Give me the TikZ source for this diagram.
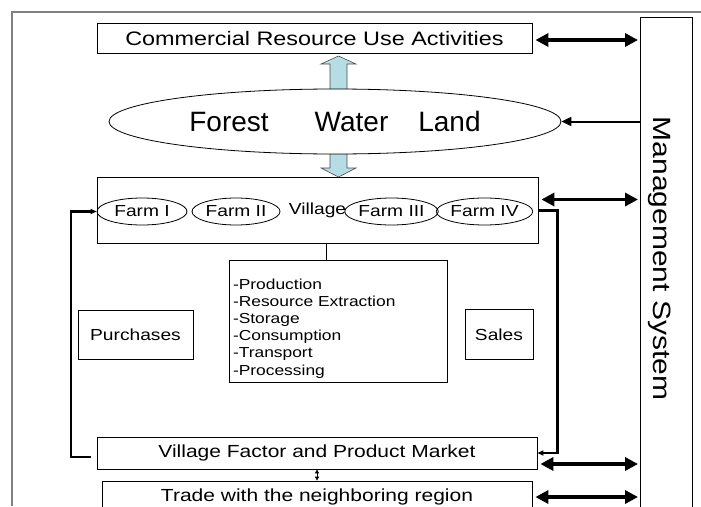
\documentclass[tikz,border=0pt]{standalone}
\usepackage{fontspec}
\setmainfont{Liberation Sans}[FakeStretch=1.2]
\newfontfamily\resfont{Liberation Sans}
\usetikzlibrary{shapes.geometric,arrows.meta,calc}
\definecolor{paleblue}{RGB}{183,221,228}
\tikzset{
	box/.style={draw, rectangle, inner sep=0pt},
	farm/.style={draw, ellipse, inner sep=0pt, minimum height=27, font=\fontsize{16}{18}\selectfont},
	both/.style={{Triangle[length=13pt,width=13pt]}-{Triangle[length=13pt,width=13pt]}, line width=3.5pt},
	loopline/.style={-{Triangle[length=6pt,width=5pt]}, line width=2.2pt, line join=miter},
}
\begin{document}
\begin{tikzpicture}[x=1pt, y=-1pt, line width=0.8pt, >=Triangle]
	\useasboundingbox (0,0) rectangle (701,506);
	\clip (0,0) rectangle (701,506);
	\draw[gray, line width=1.2pt] (12,506) -- (12,12) -- (701,12);
	\foreach \a/\b/\c in {89/64/56,154/168/177}{
		\fill[paleblue] (330,\a) -- (330,\b) -- (321,\b) -- (338.5,\c) -- (356,\b) -- (347,\b) -- (347,\a) -- cycle;
		\draw[black!70, line width=0.6pt] (330,\a) -- (330,\b) -- (321,\b) -- (338.5,\c) -- (356,\b) -- (347,\b) -- (347,\a);
	}
	\node[box, minimum width=435, minimum height=30, font=\fontsize{19.5}{22}\selectfont] (com) at (314.5,38.5) {Commercial Resource Use Activities};
	\node[draw, ellipse, inner sep=0pt, minimum width=452, minimum height=65, font=\resfont\fontsize{28}{32}\selectfont] (res) at (335,121.5) {Forest\hspace{46pt}Water\hspace{30pt}Land};
	\node[box, minimum width=441, minimum height=66, font=\fontsize{16}{18}\selectfont] (vil) at (317.5,210.5) {Village};
	\node[farm, minimum width=90] (f1) at (142,211.5) {Farm I};
	\node[farm, minimum width=88] (f2) at (236,211.5) {Farm II};
	\node[farm, minimum width=83] (f3) at (391.5,211.5) {Farm III};
	\node[farm, minimum width=95] (f4) at (484.5,211.5) {Farm IV};
	\node[box, minimum width=218, minimum height=122, text width=210, inner xsep=4pt, inner ysep=1pt, align=left, font=\fontsize{14.5}{17.2}\selectfont] (act) at (338,321)
	{\rule{0pt}{25pt}-Production\\-Resource Extraction\\-Storage\\-Consumption\\-Transport\\-Processing};
	\node[box, minimum width=115, minimum height=49, font=\fontsize{16}{18}\selectfont] (pur) at (135.5,334.5) {Purchases};
	\node[box, minimum width=68, minimum height=50, font=\fontsize{16}{18}\selectfont] (sal) at (499,334.5) {Sales};
	\node[box, minimum width=440, minimum height=32, font=\fontsize{17.5}{20}\selectfont] (mkt) at (317,453) {Village Factor and Product Market};
	\node[box, minimum width=430, minimum height=32, font=\fontsize{17.5}{20}\selectfont] (trd) at (317,497) {Trade with the neighboring region};
	\node[box, minimum width=52, minimum height=520, anchor=north west] (ms) at (640,17) {};
	\node[rotate=-90, anchor=base, font=\fontsize{25}{30}\selectfont] (mslabel) at (653,258.5) {Management System};
	
	\foreach \n/\d in {com/1.5,vil/-11,mkt/11,trd/0}
	\draw[both] ($(\n.east)+(3,\d)$) -- ($(\n.east -| ms.west)+(-2,\d)$);
	\draw[-{Triangle[length=10pt,width=9pt]}, line width=2pt] (ms.west |- res.east) -- (res.east);
	\draw[loopline] ($(mkt.west)+(-6,4)$) -- ++(-20,0) |- (f1.west);
	\draw[loopline] (vil.east) -- ++(19,0) |- (mkt.east);
	\draw ($(vil.south)+(8.5,0)$) -- ($(act.north)+(-12,0)$);
	\draw[{Triangle[length=4pt,width=4pt]}-{Triangle[length=4pt,width=4pt]}] (mkt.south) -- (trd.north);
\end{tikzpicture}
\end{document}
